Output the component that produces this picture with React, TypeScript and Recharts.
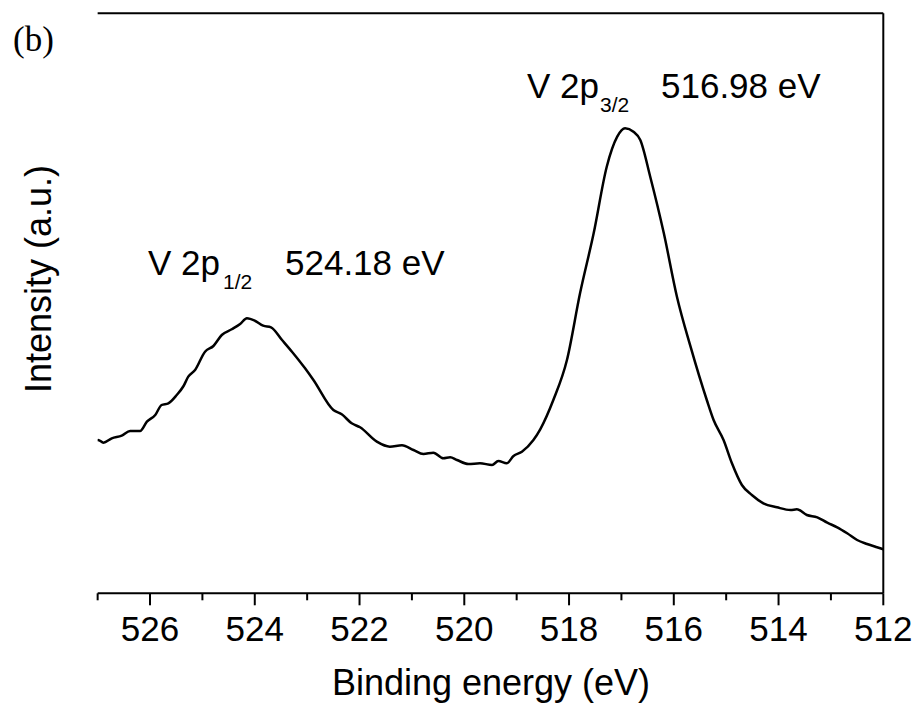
import React from "react";
import { LineChart, Line, XAxis, YAxis, ReferenceLine } from "recharts";

// Binding energy (eV) and intensity (a.u.)
const energy = [
  527.0, 526.99, 526.89, 526.73, 526.54, 526.38, 526.19, 526.06, 525.9, 525.78,
  525.65, 525.49, 525.36, 525.27, 525.14, 524.95, 524.79, 524.63, 524.44, 524.28,
  524.15, 523.99, 523.84, 523.69, 523.48, 523.29, 523.04, 522.88, 522.5, 522.34,
  522.15, 521.99, 521.67, 521.42, 521.19, 520.97, 520.78, 520.59, 520.4, 520.27,
  520.14, 519.92, 519.7, 519.47, 519.35, 519.19, 519.06, 518.9, 518.68, 518.55,
  518.3, 518.04, 517.79, 517.53, 517.28, 517.08, 516.93, 516.77, 516.64, 516.45,
  516.19, 515.94, 515.68, 515.37, 515.24, 515.05, 514.89, 514.7, 514.51, 514.29,
  514.03, 513.77, 513.65, 513.46, 513.26, 513.07, 512.88, 512.69, 512.5, 512.31,
  512.12, 512.0,
];
const intensity = [
  152.0, 153.3, 150.6, 155.0, 157.6, 162.3, 162.3, 171.6, 178.3, 188.3,
  190.0, 198.3, 207.3, 216.6, 223.3, 241.6, 247.3, 258.3, 264.0, 269.3,
  275.0, 272.3, 267.6, 266.0, 253.3, 241.6, 225.0, 213.3, 183.3, 179.0,
  170.0, 166.0, 151.6, 146.6, 148.0, 143.3, 139.3, 140.6, 135.0, 136.0,
  133.3, 129.3, 130.0, 128.3, 132.3, 130.0, 137.3, 141.6, 153.3, 164.0,
  193.3, 233.3, 300.0, 360.0, 426.6, 456.6, 465.0, 461.6, 453.3, 416.6,
  360.0, 296.6, 246.6, 193.3, 173.3, 153.3, 130.0, 108.3, 98.3, 90.0,
  86.0, 83.3, 84.0, 78.3, 76.0, 70.6, 66.0, 60.0, 53.3, 49.3,
  46.0, 44.0,
];
const xTicks = [527, 526, 525, 524, 523, 522, 521, 520, 519, 518, 517, 516, 515, 514, 513, 512];
const xLabel = "Binding energy (eV)";
const yLabel = "Intensity (a.u.)";
const panelLabel = "(b)";

const data = energy.map((e, i) => ({ ev: e, counts: intensity[i] }));

const FONT = "Arial, 'Liberation Sans', sans-serif";

const Tick = (props: any) => {
  const { x, y, payload } = props;
  const v = payload.value as number;
  const major = v % 2 === 0;
  return (
    <g>
      <line x1={x} x2={x} y1={y} y2={y + (major ? 12 : 7)} stroke="#000" strokeWidth={2} />
      {major && (
        <text x={x} y={y + 48} textAnchor="middle" fontSize={35} fontFamily={FONT} fill="#000">
          {v}
        </text>
      )}
    </g>
  );
};

export default function App() {
  return (
    <div style={{ position: "absolute", left: 0, top: 0, width: 918, height: 704, background: "#fff" }}>
      <LineChart
        width={918}
        height={704}
        data={data}
        margin={{ top: 13.3, right: 34.7, left: 97.65, bottom: 0 }}
      >
        <XAxis
          dataKey="ev"
          type="number"
          domain={[512, 527]}
          reversed
          ticks={xTicks}
          interval={0}
          tickSize={0}
          tickMargin={0}
          tickLine={false}
          tick={<Tick />}
          height={110.7}
          axisLine={{ stroke: "#000", strokeWidth: 2 }}
          allowDataOverflow
        />
        <YAxis
          type="number"
          domain={[0, 580]}
          width={0}
          tick={false}
          tickLine={false}
          axisLine={{ stroke: "#000", strokeWidth: 2 }}
          allowDataOverflow
        />
        <ReferenceLine y={580} stroke="#000" strokeWidth={2} />
        <ReferenceLine x={512} stroke="#000" strokeWidth={2} />
        <Line
          type="monotone"
          dataKey="counts"
          stroke="#000"
          strokeWidth={2.5}
          dot={false}
          isAnimationActive={false}
        />
      </LineChart>
      <svg
        width={918}
        height={704}
        style={{ position: "absolute", left: 0, top: 0, pointerEvents: "none" }}
      >
        <text x={13} y={51} fontSize={35} fontFamily="'Liberation Serif', 'Times New Roman', serif" fill="#000">
          {panelLabel}
        </text>
        <text x={491} y={695} textAnchor="middle" fontSize={36} fontFamily={FONT} fill="#000">
          {xLabel}
        </text>
        <text
          x={50.5}
          y={279}
          textAnchor="middle"
          fontSize={36}
          fontFamily={FONT}
          fill="#000"
          transform="rotate(-90 50.5 279)"
        >
          {yLabel}
        </text>
        <text x={527} y={98} fontSize={35} fontFamily={FONT} fill="#000">V 2p</text>
        <text x={600} y={112} fontSize={21} fontFamily={FONT} fill="#000">3/2</text>
        <text x={661} y={98} fontSize={35} fontFamily={FONT} fill="#000">516.98 eV</text>
        <text x={148} y={275} fontSize={35} fontFamily={FONT} fill="#000">V 2p</text>
        <text x={223} y={289} fontSize={21} fontFamily={FONT} fill="#000">1/2</text>
        <text x={285} y={275} fontSize={35} fontFamily={FONT} fill="#000">524.18 eV</text>
      </svg>
    </div>
  );
}
